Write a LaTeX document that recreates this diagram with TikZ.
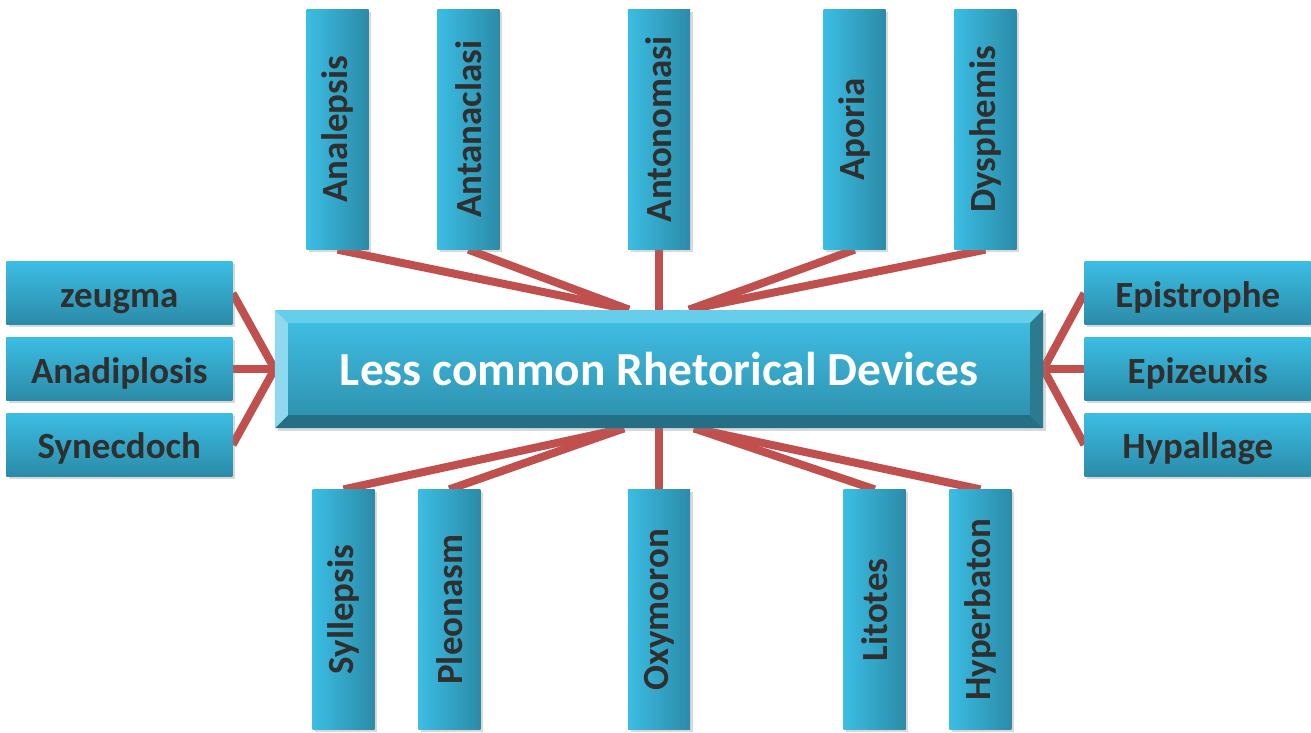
\documentclass[tikz,border=0pt]{standalone}
\usepackage{fontspec}
\setmainfont{Carlito}
\usetikzlibrary{positioning,calc,shadows,backgrounds}
\definecolor{boxlight}{HTML}{3BBDE3}
\definecolor{boxdark}{HTML}{2B8BA8}
\definecolor{linkred}{HTML}{C0504D}
\definecolor{labelgray}{HTML}{2F2F2F}
\definecolor{bevtop}{HTML}{66CDEA}
\definecolor{bevleft}{HTML}{8FD9EE}
\definecolor{bevright}{HTML}{2B7A90}
\definecolor{bevbottom}{HTML}{256F86}
\definecolor{hubtop}{HTML}{3EBCE1}
\definecolor{hubbottom}{HTML}{2F93B1}

\begin{document}
\begin{tikzpicture}[
  x=0.2mm, y=-0.2mm,
  hbox/.style={minimum width=45.2mm, minimum height=12.6mm, inner sep=0pt, top color=boxlight, bottom color=boxdark,
    text height=20pt, text depth=4pt,
    font=\bfseries\fontsize{21}{24}\selectfont, text=labelgray, drop shadow={opacity=0.3, shadow xshift=0.5mm, shadow yshift=-0.5mm}},
  vbox/.style={minimum width=12.4mm, minimum height=48mm, inner sep=0pt, left color=boxlight, right color=boxdark,
    font=\bfseries\fontsize{21}{24}\selectfont, text=labelgray, drop shadow={opacity=0.3, shadow xshift=0.5mm, shadow yshift=-0.5mm}},
  link/.style={line width=1.6mm, color=linkred},
  hub/.style={minimum width=153.6mm, minimum height=23.6mm, inner sep=0pt, fill=hubtop, text=white,
    font=\bfseries\fontsize{27}{30}\selectfont, drop shadow={opacity=0.3, shadow xshift=0.6mm, shadow yshift=-0.6mm},
    path picture={
      \path (path picture bounding box.north west) coordinate (bnw)
            (path picture bounding box.north east) coordinate (bne)
            (path picture bounding box.south east) coordinate (bse)
            (path picture bounding box.south west) coordinate (bsw);
      \shade[top color=hubtop, bottom color=hubbottom] ($(bnw)+(2.6mm,-2.6mm)$) rectangle ($(bse)+(-2.6mm,2.6mm)$);
      \fill[bevtop] (bnw) -- (bne) -- ++(-2.6mm,-2.6mm) -- ($(bnw)+(2.6mm,-2.6mm)$) -- cycle;
      \fill[bevbottom] (bsw) -- (bse) -- ++(-2.6mm,2.6mm) -- ($(bsw)+(2.6mm,2.6mm)$) -- cycle;
      \fill[bevleft] (bnw) -- (bsw) -- ++(2.6mm,2.6mm) -- ($(bnw)+(2.6mm,-2.6mm)$) -- cycle;
      \fill[bevright] (bne) -- (bse) -- ++(-2.6mm,2.6mm) -- ($(bne)+(-2.6mm,-2.6mm)$) -- cycle;
    }},
]
  \useasboundingbox (0,0) rectangle (1311,732);

  \node[hub] (hub) at (659,369) {Less common Rhetorical Devices};

  % left and right columns
  \node[hbox, left=8.4mm of hub]   (anad) {Anadiplosis};
  \node[hbox, above=2.4mm of anad] (zeug) {zeugma};
  \node[hbox, below=2.4mm of anad] (syne) {Synecdoch};

  \node[hbox, right=8.2mm of hub]  (epiz) {Epizeuxis};
  \node[hbox, above=2.4mm of epiz] (epis) {Epistrophe};
  \node[hbox, below=2.4mm of epiz] (hypa) {Hypallage};

  % top row
  \node[vbox, above=12mm of hub]    (anto) {\rotatebox{90}{Antonomasi}};
  \node[vbox, left=25.6mm of anto]  (anta) {\rotatebox{90}{Antanaclasi}};
  \node[vbox, left=13.6mm of anta]  (anal) {\rotatebox{90}{Analepsis}};
  \node[vbox, right=26.6mm of anto] (apor) {\rotatebox{90}{Aporia}};
  \node[vbox, right=13.6mm of apor] (dysp) {\rotatebox{90}{Dysphemis}};

  % bottom row
  \node[vbox, below=12.2mm of hub]  (oxym) {\rotatebox{90}{Oxymoron}};
  \node[vbox, left=29.4mm of oxym]  (pleo) {\rotatebox{90}{Pleonasm}};
  \node[vbox, left=8.6mm of pleo]   (syll) {\rotatebox{90}{Syllepsis}};
  \node[vbox, right=30.6mm of oxym] (lito) {\rotatebox{90}{Litotes}};
  \node[vbox, right=8.6mm of lito]  (hype) {\rotatebox{90}{Hyperbaton}};

  \coordinate (hubnl) at ($(hub.north)+(-30,0)$);
  \coordinate (hubnr) at ($(hub.north)+(30,0)$);
  \coordinate (hubsl) at ($(hub.south)+(-35,0)$);
  \coordinate (hubsr) at ($(hub.south)+(35,0)$);

  \begin{scope}[on background layer]
    \draw[link] (anal.south) -- (hubnl);
    \draw[link] (anta.south) -- (hubnl);
    \draw[link] (anto.south) -- (hub.north);
    \draw[link] (apor.south) -- (hubnr);
    \draw[link] (dysp.south) -- (hubnr);

    \draw[link] (syll.north) -- (hubsl);
    \draw[link] (pleo.north) -- (hubsl);
    \draw[link] (oxym.north) -- (hub.south);
    \draw[link] (lito.north) -- (hubsr);
    \draw[link] (hype.north) -- (hubsr);

    \draw[link] (zeug.east) -- (hub.west);
    \draw[link] (anad.east) -- (hub.west);
    \draw[link] (syne.east) -- (hub.west);
    \draw[link] (epis.west) -- (hub.east);
    \draw[link] (epiz.west) -- (hub.east);
    \draw[link] (hypa.west) -- (hub.east);
  \end{scope}
\end{tikzpicture}
\end{document}
